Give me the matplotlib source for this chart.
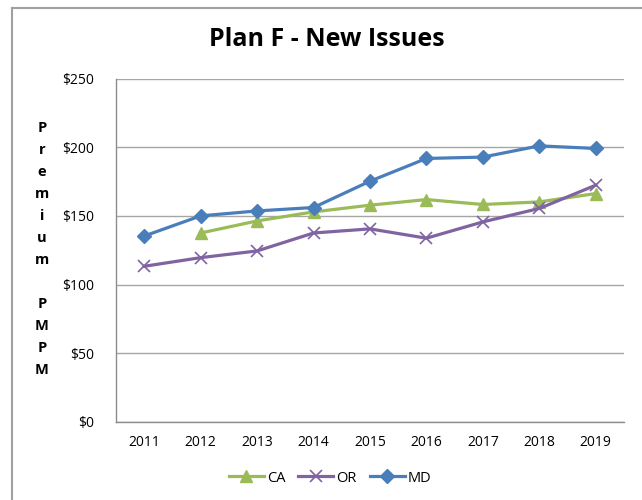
import matplotlib.pyplot as plt
from matplotlib.lines import Line2D

years = ["2011", "2012", "2013", "2014", "2015", "2016", "2017", "2018", "2019"]
ca = [None, 137.6, 146.4, 153.0, 157.9, 162.0, 158.4, 160.3, 166.4]
or_vals = [113.3, 119.6, 124.5, 137.6, 140.6, 133.8, 145.7, 155.5, 172.5]
md = [135.4, 150.1, 153.7, 156.2, 175.4, 192.0, 193.0, 201.2, 199.3]
y_ticks = [0, 50, 100, 150, 200, 250]

CA_COLOR = "#9BBB59"
OR_COLOR = "#8064A2"
MD_COLOR = "#4A7EBB"
FONT = "Open Sans"

plt.rcParams["font.family"] = [FONT, "DejaVu Sans"]

fig = plt.figure(figsize=(6.42, 5.0), dpi=100)
ax = fig.add_axes([116 / 642, 1 - 421.5 / 500, (624 - 116) / 642, (421.5 - 79) / 500])

x = list(range(len(years)))
ca_x = [i for i, v in zip(x, ca) if v is not None]
ca_y = [v for v in ca if v is not None]

ax.plot(ca_x, ca_y, color=CA_COLOR, lw=2.3, marker="^", ms=9, label="CA")
ax.plot(x, or_vals, color=OR_COLOR, lw=2.3, marker="x", ms=8, mew=1.2, label="OR")
ax.plot(x, md, color=MD_COLOR, lw=2.3, marker="D", ms=7, label="MD")

ax.set_xlim(-0.5, len(years) - 0.5)
ax.set_ylim(0, 250)
ax.set_xticks(x)
ax.set_xticklabels(years, fontsize=10)
ax.set_yticks(y_ticks)
ax.set_yticklabels([f"${v}" for v in y_ticks], fontsize=10)
ax.tick_params(axis="x", length=0, pad=10)
ax.tick_params(axis="y", length=0, pad=16)
ax.grid(axis="y", color="#A6A6A6", lw=1.0)
ax.set_axisbelow(True)
for side in ("top", "right"):
    ax.spines[side].set_visible(False)
for side in ("left", "bottom"):
    ax.spines[side].set_color("#8C8C8C")
    ax.spines[side].set_linewidth(1.0)

fig.text(327 / 642, 1 - 40 / 500, "Plan F - New Issues", ha="center", va="center",
         fontsize=18, fontweight="bold")

label = "\n".join(list("Premium")) + "\n\n" + "\n".join(list("PMPM"))
fig.text(42 / 642, 1 - 249 / 500, label, ha="center", va="center",
         fontsize=10.5, fontweight="bold", linespacing=1.72)

# outer chart frame
fig.add_artist(Line2D([12 / 642, 12 / 642], [0, 1 - 8 / 500], transform=fig.transFigure,
                      color="#A0A0A0", lw=1.5))
fig.add_artist(Line2D([12 / 642, 1], [1 - 8 / 500, 1 - 8 / 500], transform=fig.transFigure,
                      color="#A0A0A0", lw=1.5))

fig.legend(loc="center", bbox_to_anchor=(330 / 642, 1 - 478 / 500), ncol=3, frameon=False,
           fontsize=10.5, handlelength=2.4, columnspacing=0.9, handletextpad=0.2)

fig.savefig("out.png", dpi=100)
